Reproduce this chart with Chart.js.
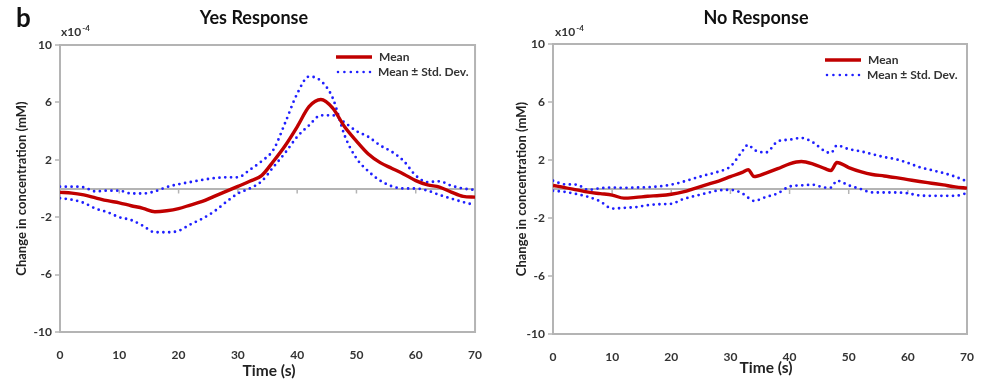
<!DOCTYPE html>
<html>
<head>
<meta charset="utf-8">
<script src="https://cdn.jsdelivr.net/npm/chart.js@4.4.1/dist/chart.umd.min.js"></script>
<style>
body{margin:0;background:#fff;}
#wrap{position:relative;width:984px;height:383px;overflow:hidden;}
.panel{position:absolute;top:0;}
</style>
</head>
<body>
<div id="wrap">
  <div class="panel" style="left:0px"><canvas id="yesChart" width="490" height="383"></canvas></div>
  <div class="panel" style="left:490px"><canvas id="noChart" width="494" height="383"></canvas></div>
</div>
<script>
// values in units of 1e-4 mM
const xTicks = [0, 10, 20, 30, 40, 50, 60, 70];
const yTicks = [-10, -6, -2, 2, 6, 10];

const yesTime  = [0,2,4,6,8,10,12,14,16,18,20,22,24,26,28,30,32,34,36,38,40,42,44,46,48,50,52,54,56,58,60,62,64,66,68,70];
const yesMean  = [-0.27,-0.32,-0.45,-0.65,-0.85,-1.0,-1.2,-1.38,-1.62,-1.55,-1.4,-1.15,-0.9,-0.55,-0.2,0.15,0.5,0.9,1.9,3.0,4.3,5.7,6.2,5.6,4.3,3.3,2.4,1.8,1.4,1.0,0.55,0.25,0.1,-0.25,-0.55,-0.6];
const yesUpper = [0.13,0.13,0.08,-0.2,-0.15,-0.15,-0.35,-0.35,-0.2,0.1,0.3,0.45,0.6,0.72,0.78,0.78,1.3,1.9,2.7,4.6,6.6,7.8,7.5,6.3,3.7,2.1,1.2,0.55,0.15,0.0,0.0,-0.15,-0.45,-0.7,-0.95,-1.15];
const yesLower = [-0.68,-0.78,-1.0,-1.4,-1.65,-2.0,-2.2,-2.6,-3.05,-3.05,-2.95,-2.5,-2.1,-1.6,-0.95,-0.35,0.0,0.5,1.5,2.5,3.6,4.4,5.1,5.1,4.6,4.0,3.6,3.0,2.55,1.9,0.9,0.45,0.5,0.2,0.0,-0.1];

const noTime  = [0,2,4,6,8,10,12,14,16,18,20,22,24,26,28,30,32,33,34,36,38,40,42,44,46,47,48,50,52,54,56,58,60,62,64,66,68,70];
const noMean  = [0.24,0.1,-0.06,-0.22,-0.32,-0.42,-0.63,-0.58,-0.5,-0.45,-0.36,-0.2,0.05,0.3,0.55,0.85,1.15,1.33,0.86,1.1,1.4,1.74,1.9,1.72,1.4,1.28,1.83,1.48,1.2,1.0,0.9,0.78,0.65,0.52,0.4,0.28,0.15,0.06];
const noUpper = [0.57,0.32,0.3,-0.06,0.06,0.1,0.08,0.1,0.12,0.18,0.3,0.5,0.75,0.98,1.2,1.55,2.6,3.05,2.7,2.52,3.28,3.4,3.52,3.2,2.6,2.48,3.0,2.75,2.6,2.4,2.2,2.05,1.8,1.5,1.3,1.1,0.85,0.52];
const noLower = [-0.12,-0.2,-0.35,-0.55,-0.86,-1.35,-1.3,-1.25,-1.12,-1.05,-1.02,-0.7,-0.48,-0.28,-0.1,-0.06,-0.3,-0.6,-0.82,-0.55,-0.3,0.17,0.25,0.29,0.1,0.1,0.57,0.25,0.0,-0.24,-0.24,-0.24,-0.3,-0.45,-0.47,-0.47,-0.47,-0.28];

const FONT = 'Lato, "Open Sans", sans-serif';
const TXT = '#333333';
const AXIS_GRAY = '#b4b4b4';
const RED = '#c00000';
const BLUE = '#1f1fff';

function toPoints(xs, ys) {
  let pts = [];
  for (let i = 0; i < xs.length; i++) pts.push({x: xs[i], y: ys[i]});
  return pts;
}

const decorPlugin = {
  id: 'decor',
  beforeDatasetsDraw(chart, args, o) {
    const ctx = chart.ctx, a = chart.chartArea;
    const xs = chart.scales.x, ys = chart.scales.y;
    ctx.save();
    ctx.strokeStyle = AXIS_GRAY;
    ctx.lineWidth = 2;
    ctx.strokeRect(a.left, a.top, a.right - a.left, a.bottom - a.top);
    // small tick marks hanging off the zero line
    const y0 = ys.getPixelForValue(0);
    ctx.lineWidth = 1.5;
    for (let i = 1; i < xTicks.length - 1; i++) {
      const px = xs.getPixelForValue(xTicks[i]);
      ctx.beginPath();
      ctx.moveTo(px, y0);
      ctx.lineTo(px, y0 + 5);
      ctx.stroke();
    }
    ctx.restore();
  },
  afterDraw(chart, args, o) {
    const ctx = chart.ctx;
    ctx.save();
    ctx.fillStyle = '#111';
    ctx.textBaseline = 'middle';
    if (o.letter) {
      ctx.font = 'bold 26px ' + FONT;
      ctx.textAlign = 'left';
      ctx.fillText(o.letter, 16, 19);
    }
    ctx.font = 'bold 18px ' + FONT;
    ctx.textAlign = 'center';
    ctx.fillText(o.title, o.titleX, 18);

    // x10^-4 multiplier
    ctx.fillStyle = TXT;
    ctx.textAlign = 'left';
    ctx.font = 'bold 12px ' + FONT;
    ctx.fillText('x10', o.expX, 32);
    const w = ctx.measureText('x10').width;
    ctx.font = 'bold 8px ' + FONT;
    ctx.fillText('-4', o.expX + w + 1, 28);

    // axis titles
    ctx.fillStyle = '#222';
    ctx.font = 'bold 15.5px ' + FONT;
    ctx.textAlign = 'center';
    ctx.fillText('Time (s)', o.xTitleX, o.xTitleY);
    ctx.save();
    ctx.translate(o.yTitleX, (chart.chartArea.top + chart.chartArea.bottom) / 2);
    ctx.rotate(-Math.PI / 2);
    ctx.font = 'bold 13px ' + FONT;
    ctx.fillText('Change in concentration (mM)', 0, 0);
    ctx.restore();

    // legend
    const lx = o.legendX, ly = o.legendY;
    ctx.lineCap = 'butt';
    ctx.strokeStyle = RED;
    ctx.lineWidth = 3.4;
    ctx.beginPath();
    ctx.moveTo(lx, ly);
    ctx.lineTo(lx + 36, ly);
    ctx.stroke();
    ctx.strokeStyle = BLUE;
    ctx.lineWidth = 2.6;
    ctx.lineCap = 'round';
    ctx.setLineDash([0, 6.4]);
    ctx.beginPath();
    ctx.moveTo(lx + 2, ly + 15);
    ctx.lineTo(lx + 35, ly + 15);
    ctx.stroke();
    ctx.setLineDash([]);
    ctx.fillStyle = TXT;
    ctx.font = 'bold 12px ' + FONT;
    ctx.textAlign = 'left';
    ctx.fillText('Mean', lx + 43, ly);
    ctx.fillText('Mean \u00B1 Std. Dev.', lx + 42, ly + 15);
    ctx.restore();
  }
};

function makeChart(canvasId, time, mean, upper, lower, lay, decor) {
  const dotted = {
    borderColor: BLUE,
    borderWidth: 2.8,
    borderDash: [0, 5.8],
    borderCapStyle: 'round',
    pointRadius: 0,
    cubicInterpolationMode: 'monotone'
  };
  const config = {
    type: 'line',
    data: {
      datasets: [
        {label: 'Mean', data: toPoints(time, mean), borderColor: RED, borderWidth: 3.4, pointRadius: 0, cubicInterpolationMode: 'monotone'},
        Object.assign({label: 'Mean + Std. Dev.', data: toPoints(time, upper)}, dotted),
        Object.assign({label: 'Mean - Std. Dev.', data: toPoints(time, lower)}, dotted)
      ]
    },
    options: {
      responsive: false,
      animation: false,
      layout: {padding: {top: lay.top, right: lay.right, left: 0, bottom: 0}},
      scales: {
        x: {
          type: 'linear', min: 0, max: 70,
          afterBuildTicks: s => { s.ticks = xTicks.map(v => ({value: v})); },
          afterFit: s => { s.height = lay.bottom; },
          grid: {display: false},
          border: {display: false},
          ticks: {padding: 8, maxRotation: 0, autoSkip: false, color: TXT, font: {family: FONT, size: 12, weight: 'bold'}}
        },
        y: {
          min: -10, max: 10,
          afterBuildTicks: s => { s.ticks = yTicks.concat([0]).map(v => ({value: v})); },
          afterFit: s => { s.width = lay.left; },
          border: {display: false},
          grid: {
            color: c => (c.tick && c.tick.value === 0) ? AXIS_GRAY : 'rgba(0,0,0,0)',
            lineWidth: 2,
            tickColor: c => (c.tick && c.tick.value === 0) ? 'rgba(0,0,0,0)' : AXIS_GRAY,
            tickLength: 5,
            tickWidth: 1.5
          },
          ticks: {
            padding: 3, color: TXT, font: {family: FONT, size: 12, weight: 'bold'},
            callback: v => (v === 0 ? '' : v)
          }
        }
      },
      plugins: {legend: {display: false}, tooltip: {enabled: false}, decor: decor}
    },
    plugins: [decorPlugin]
  };
  return new Chart(document.getElementById(canvasId), config);
}

makeChart('yesChart', yesTime, yesMean, yesUpper, yesLower,
  {top: 45, right: 13, left: 60, bottom: 51},
  {letter: 'b', title: 'Yes Response', titleX: 254, expX: 61, xTitleX: 269, xTitleY: 371, yTitleX: 22, legendX: 336, legendY: 57});

makeChart('noChart', noTime, noMean, noUpper, noLower,
  {top: 44, right: 17, left: 63, bottom: 49},
  {title: 'No Response', titleX: 266, expX: 65, xTitleX: 276, xTitleY: 368, yTitleX: 32, legendX: 335, legendY: 60});
</script>
</body>
</html>
